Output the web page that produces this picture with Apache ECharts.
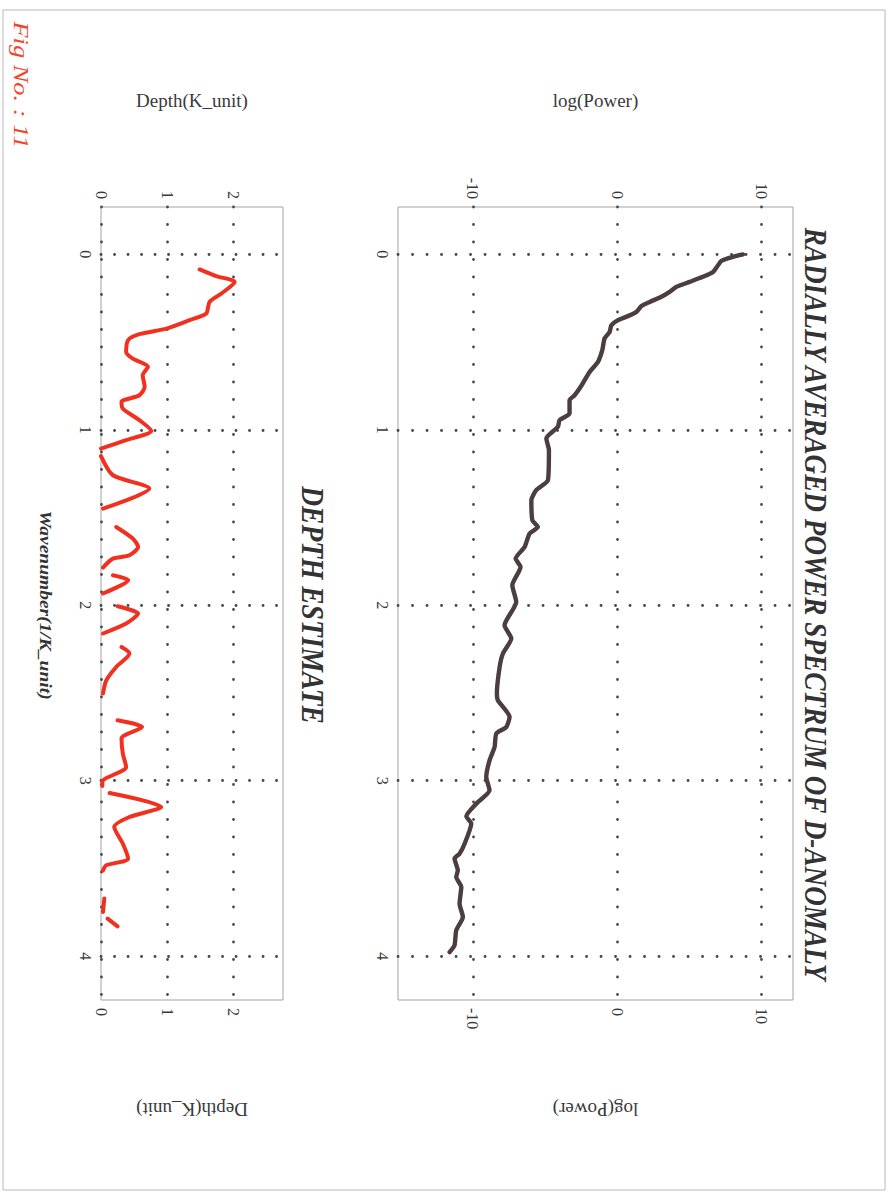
<!DOCTYPE html>
<html>
<head>
<meta charset="utf-8">
<script src="https://cdn.jsdelivr.net/npm/echarts@6/dist/echarts.min.js"></script>
<style>
html,body{margin:0;padding:0;background:#ffffff;}
#chart{width:896px;height:1198px;}
</style>
</head>
<body>
<div id="chart"></div>
<script>
// ---- Radially averaged power spectrum (wavenumber vs log power) ----
const specWavenumber = [0, 0.014, 0.037, 0.062, 0.10, 0.128, 0.157, 0.185, 0.214, 0.242,
  0.271, 0.295, 0.328, 0.352, 0.375, 0.404, 0.442, 0.479, 0.546, 0.613,
  0.670, 0.746, 0.803, 0.831, 0.907, 0.945, 0.983, 1.050, 1.116, 1.287,
  1.344, 1.401, 1.515, 1.554, 1.591, 1.668, 1.734, 1.782, 1.886, 1.981,
  2.114, 2.190, 2.275, 2.352, 2.503, 2.542, 2.637, 2.694, 2.731, 2.808,
  2.884, 2.979, 3.055, 3.131, 3.203, 3.245, 3.359, 3.416, 3.444, 3.511,
  3.549, 3.606, 3.701, 3.777, 3.853, 3.939, 3.977];
const specLogPower = [8.73, 8.04, 7.23, 7.0, 6.65, 5.95, 5.03, 4.11, 3.64, 3.07,
  2.26, 1.68, 1.33, 0.75, 0.06, -0.40, -0.52, -0.87, -1.03, -1.33,
  -1.91, -2.46, -2.95, -3.30, -3.30, -3.99, -4.11, -4.91, -4.73, -4.80,
  -5.61, -5.95, -5.88, -5.50, -6.07, -6.42, -7.04, -6.70, -7.27, -7.00,
  -7.81, -7.34, -7.92, -8.15, -8.34, -8.27, -7.46, -7.69, -8.38, -8.50,
  -8.85, -9.08, -8.85, -9.77, -10.46, -10.12, -10.58, -10.93, -11.28, -11.05,
  -11.16, -10.81, -10.93, -10.70, -11.16, -11.28, -11.62];

// ---- Depth estimate (wavenumber vs depth); null = gap ----
const depthWavenumber = [0.086, 0.124, 0.157, 0.223, 0.271, 0.337, 0.375, 0.423, 0.455, 0.489,
  0.556, 0.594, 0.641, 0.689, 0.755, 0.803, 0.841, 0.879, 0.945, 1.006,
  1.059, 1.107, 1.130, 1.150, 1.259, 1.335, 1.449, 1.500, 1.554, 1.620,
  1.668, 1.715, 1.734, 1.785, 1.810, 1.829, 1.857, 1.933, 1.970, 2.006,
  2.047, 2.104, 2.161, 2.200, 2.238, 2.275, 2.352, 2.428, 2.503, 2.580,
  2.656, 2.694, 2.760, 2.846, 2.922, 2.998, 3.030, 3.050, 3.070, 3.150,
  3.207, 3.264, 3.359, 3.444, 3.482, 3.511, 3.600, 3.672, 3.748, 3.767,
  3.786, 3.830];
const depthValues = [1.49, 1.74, 2.02, 1.82, 1.64, 1.59, 1.34, 0.99, 0.58, 0.41,
  0.38, 0.48, 0.71, 0.63, 0.66, 0.58, 0.31, 0.33, 0.58, 0.76,
  0.38, 0.00, null, 0.00, 0.18, 0.73, 0.03, null, 0.23, 0.48,
  0.56, 0.43, 0.18, 0.03, null, 0.18, 0.41, 0.03, null, 0.25,
  0.56, 0.38, 0.03, null, 0.31, 0.43, 0.23, 0.08, 0.03, null,
  0.25, 0.62, 0.31, 0.33, 0.38, 0.03, 0.02, null, 0.13, 0.91,
  0.43, 0.20, 0.33, 0.41, 0.08, 0.03, null, 0.05, 0.03, null,
  0.10, 0.25];

// ---- Tick labels ----
const wavenumberTicks = [0, 1, 2, 3, 4];
const powerTicks = [-10, 0, 10];
const depthTicks = [0, 1, 2];

// ---- Texts ----
const figLabel = 'Fig No. : 11';
const titleSpectrum = 'RADIALLY AVERAGED POWER SPECTRUM OF D-ANOMALY';
const titleDepth = 'DEPTH ESTIMATE';
const powerName = 'log(Power)';
const depthName = 'Depth(K_unit)';
const wavenumberName = 'Wavenumber(1/K_unit)';

const FONT = "'Liberation Serif', 'Times New Roman', 'DejaVu Serif', serif";
const TXT = '#3a3a3a';

function dots(gap) {
  return { color: '#484848', width: 2.8, type: [0.1, gap], cap: 'round' };
}
function tickFmt(list) {
  return function (v) { return list.indexOf(Math.round(v * 1000) / 1000) >= 0 ? String(v) : ''; };
}
function xAxisDef(grid, pos, min, max, split, ticks, name, gapLen) {
  return {
    type: 'value', gridIndex: grid, position: pos, min: min, max: max, splitNumber: split,
    axisLine: { show: false }, axisTick: { show: false },
    splitLine: pos === 'top'
      ? { show: true, showMinLine: grid === 1, showMaxLine: false, lineStyle: dots(gapLen) }
      : { show: false },
    axisLabel: {
      rotate: -90, margin: 8, fontFamily: FONT, fontSize: 16, color: TXT,
      showMinLabel: grid === 1, showMaxLabel: false, formatter: tickFmt(ticks)
    },
    name: name, nameLocation: 'middle', nameGap: pos === 'top' ? 97 : 100,
    nameRotate: pos === 'top' ? 0 : 180,
    nameTextStyle: { fontFamily: FONT, fontSize: 19, color: TXT }
  };
}
function yAxisDef(grid, gapLen) {
  return {
    type: 'value', gridIndex: grid, position: 'left', inverse: true,
    min: -0.27, max: 4.25, splitNumber: 5,
    axisLine: { show: false }, axisTick: { show: false },
    splitLine: { show: true, showMinLine: false, showMaxLine: false, lineStyle: dots(gapLen) },
    axisLabel: {
      rotate: -90, margin: 8, fontFamily: FONT, fontSize: 16, color: TXT,
      showMinLabel: false, showMaxLabel: false, formatter: tickFmt(wavenumberTicks)
    }
  };
}

const chart = echarts.init(document.getElementById('chart'), null, { renderer: 'svg' });
chart.setOption({
  animation: false,
  backgroundColor: '#ffffff',
  textStyle: { fontFamily: FONT },
  grid: [
    { left: 398, top: 207, width: 395, height: 793, show: true, borderColor: '#a3a3a3', borderWidth: 1, backgroundColor: 'transparent' },
    { left: 101, top: 207, width: 182, height: 793, show: true, borderColor: '#a3a3a3', borderWidth: 1, backgroundColor: 'transparent' }
  ],
  xAxis: [
    xAxisDef(0, 'top', -15.2, 12.2, 3, powerTicks, powerName, 17.4),
    xAxisDef(0, 'bottom', -15.2, 12.2, 3, powerTicks, powerName, 17.4),
    Object.assign(xAxisDef(1, 'top', 0, 2.75, 3, depthTicks, depthName, 17.4), { interval: 1 }),
    Object.assign(xAxisDef(1, 'bottom', 0, 2.75, 3, depthTicks, depthName, 17.4), { interval: 1 })
  ],
  yAxis: [yAxisDef(0, 14.4), yAxisDef(1, 13.4)],
  series: [
    {
      type: 'line', xAxisIndex: 0, yAxisIndex: 0, symbol: 'none', silent: true, smooth: 0.2,
      data: specWavenumber.map(function (w, i) { return [specLogPower[i], w]; }),
      lineStyle: { color: '#4b3d40', width: 4.4, join: 'round', cap: 'round' }
    },
    {
      type: 'line', xAxisIndex: 2, yAxisIndex: 1, symbol: 'none', silent: true, connectNulls: false, smooth: 0.25,
      data: depthWavenumber.map(function (w, i) { return depthValues[i] === null ? ['-', '-'] : [depthValues[i], w]; }),
      lineStyle: { color: '#f2301f', width: 4, join: 'round', cap: 'round' }
    }
  ],
  graphic: [
    { type: 'rect', silent: true, z: -5, shape: { x: 3, y: 10, width: 882, height: 1180 },
      style: { fill: 'none', stroke: '#b8b8b8', lineWidth: 1 } },
    { type: 'text', silent: true, x: 22, y: 85, rotation: -Math.PI / 2, scaleX: 1.2,
      style: { text: figLabel, fontFamily: FONT, fontSize: 22, fontStyle: 'italic', fill: '#f0462e',
        align: 'center', verticalAlign: 'middle', textAlign: 'center', textVerticalAlign: 'middle' } },
    { type: 'text', silent: true, x: 816, y: 604, rotation: -Math.PI / 2, scaleX: 0.85,
      style: { text: titleSpectrum, fontFamily: FONT, fontSize: 32, fontStyle: 'italic', fontWeight: 'bold', fill: '#333333',
        align: 'center', verticalAlign: 'middle', textAlign: 'center', textVerticalAlign: 'middle' } },
    { type: 'text', silent: true, x: 313, y: 605, rotation: -Math.PI / 2, scaleX: 0.86,
      style: { text: titleDepth, fontFamily: FONT, fontSize: 32, fontStyle: 'italic', fontWeight: 'bold', fill: '#333333',
        align: 'center', verticalAlign: 'middle', textAlign: 'center', textVerticalAlign: 'middle' } },
    { type: 'text', silent: true, x: 45, y: 605, rotation: -Math.PI / 2, scaleX: 1.22,
      style: { text: wavenumberName, fontFamily: FONT, fontSize: 16, fontStyle: 'italic', fontWeight: 'bold', fill: '#333333',
        align: 'center', verticalAlign: 'middle', textAlign: 'center', textVerticalAlign: 'middle' } }
  ]
});
</script>
</body>
</html>
